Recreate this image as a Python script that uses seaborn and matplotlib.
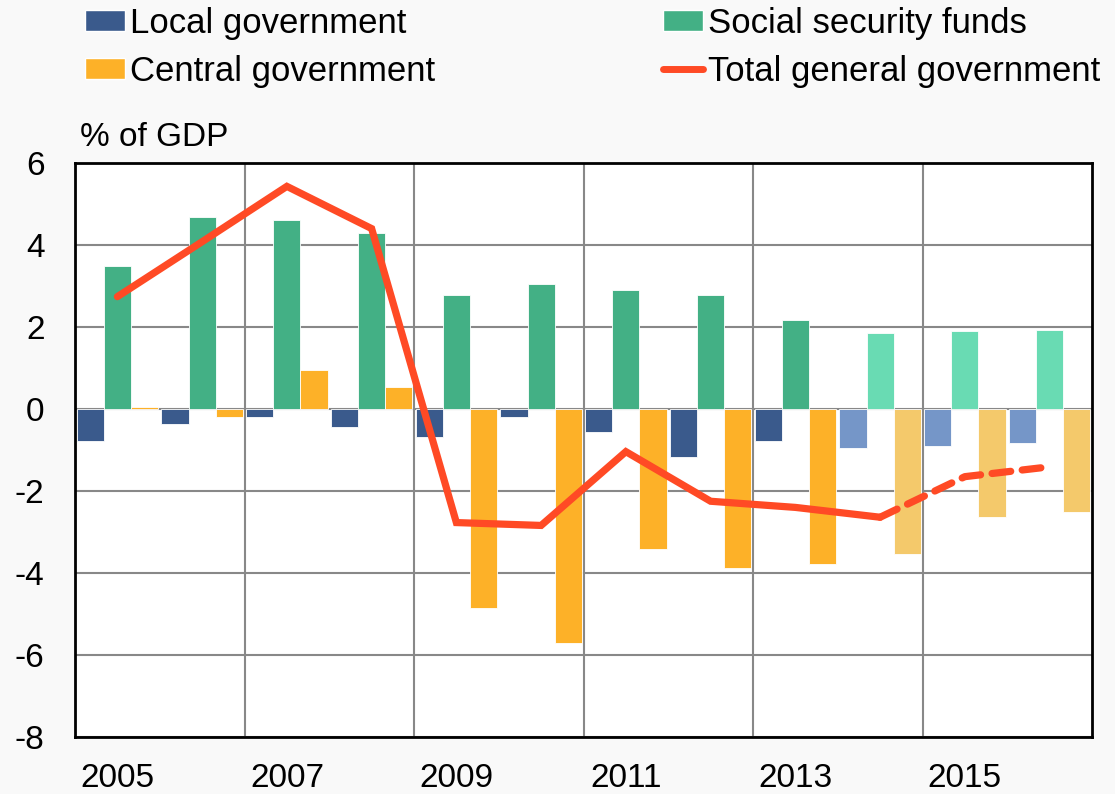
import numpy as np
import pandas as pd
import matplotlib
matplotlib.use("Agg")
import matplotlib.pyplot as plt
from matplotlib.patches import Patch
from matplotlib.lines import Line2D
import seaborn as sns

years = [2005, 2006, 2007, 2008, 2009, 2010, 2011, 2012, 2013, 2014, 2015, 2016]
local_gov = [-0.79, -0.37, -0.2, -0.44, -0.69, -0.2, -0.57, -1.16, -0.77, -0.96, -0.91, -0.84]
social_sec = [3.48, 4.69, 4.62, 4.3, 2.79, 3.06, 2.91, 2.77, 2.17, 1.85, 1.9, 1.93]
central_gov = [0.04, -0.2, 0.96, 0.54, -4.86, -5.7, -3.41, -3.88, -3.78, -3.53, -2.64, -2.52]
total_gov = [2.74, 4.08, 5.43, 4.4, -2.77, -2.84, -1.04, -2.25, -2.4, -2.64, -1.65, -1.41]
forecast_from = 2014
tick_years = [2005, 2007, 2009, 2011, 2013, 2015]
series_names = ["Local government", "Social security funds", "Central government"]
line_name = "Total general government"

dark_cols = ["#3A5A8C", "#43B085", "#FDB128"]
light_cols = ["#7596C8", "#69DBB3", "#F4C96B"]
line_col = "#FF4A25"

df = pd.DataFrame({
    "year": [str(y) for y in years] * 3,
    "sector": sum([[n] * len(years) for n in series_names], []),
    "value": local_gov + social_sec + central_gov,
})

sns.set_theme(style="white")
plt.rcParams["font.family"] = ["Liberation Sans", "DejaVu Sans"]
plt.rcParams["text.color"] = "black"

fig = plt.figure(figsize=(11.15, 7.94), dpi=100, facecolor="#f9f9f9")
ax = fig.add_axes([75 / 1115, 1 - 737 / 794, (1092 - 75) / 1115, (737 - 163) / 794])
ax.set_facecolor("white")

sns.barplot(data=df, x="year", y="value", hue="sector", hue_order=series_names,
            order=[str(y) for y in years], palette=dark_cols, width=0.96,
            edgecolor="white", linewidth=0.6, legend=False, ax=ax)

for cont, dc, lc in zip(ax.containers, dark_cols, light_cols):
    for i, patch in enumerate(cont):
        patch.set_facecolor(lc if years[i] >= forecast_from else dc)

idx = np.arange(len(years))
k = years.index(forecast_from)
sns.lineplot(x=idx[:k + 1], y=total_gov[:k + 1], ax=ax, color=line_col, lw=5.2,
             sort=False, solid_capstyle="round", solid_joinstyle="miter")
sns.lineplot(x=idx[k:], y=total_gov[k:], ax=ax, color=line_col, lw=5.2, sort=False,
             linestyle=(0, (2.6, 1.6)), dash_capstyle="round")

ax.set_xlim(-0.5, len(years) - 0.5)
ax.set_ylim(-8, 6)
ax.set_yticks(np.arange(-8, 7, 2))
ax.set_yticklabels([str(v) for v in np.arange(-8, 7, 2)])
ax.set_xticks([years.index(y) for y in tick_years])
ax.set_xticklabels([str(y) for y in tick_years])
ax.set_xticks(np.arange(1.5, len(years) - 1, 2), minor=True)
ax.set_xlabel("")
ax.set_ylabel("")
ax.set_axisbelow(True)
ax.grid(False)
ax.yaxis.grid(True, color="#888888", linewidth=1.5)
ax.xaxis.grid(True, which="minor", color="#888888", linewidth=1.5)
ax.tick_params(axis="both", which="both", length=0, labelsize=24, colors="black")
ax.tick_params(axis="y", pad=22)
ax.tick_params(axis="x", pad=19)
for s in ax.spines.values():
    s.set_visible(True)
    s.set_color("black")
    s.set_linewidth(2)

fig.text(80 / 1115, 1 - 138 / 794, "% of GDP", fontsize=24, va="center", ha="left",
         color="black")

h1 = [Patch(facecolor=dark_cols[0]), Patch(facecolor=dark_cols[2])]
l1 = [series_names[0], series_names[2]]
h2 = [Patch(facecolor=dark_cols[1]), Line2D([], [], color=line_col, lw=5)]
l2 = [series_names[1], line_name]
common = dict(frameon=False, fontsize=25, handlelength=1.15, handleheight=0.55,
              handletextpad=0.15, labelspacing=0.42, borderpad=0, borderaxespad=0,
              loc="upper left", labelcolor="black")
fig.legend(h1, l1, bbox_to_anchor=(85 / 1115, 1 - 7 / 794), **common)
fig.legend(h2, l2, bbox_to_anchor=(663 / 1115, 1 - 7 / 794), **common)

fig.savefig("out.png", dpi=100, facecolor=fig.get_facecolor())
